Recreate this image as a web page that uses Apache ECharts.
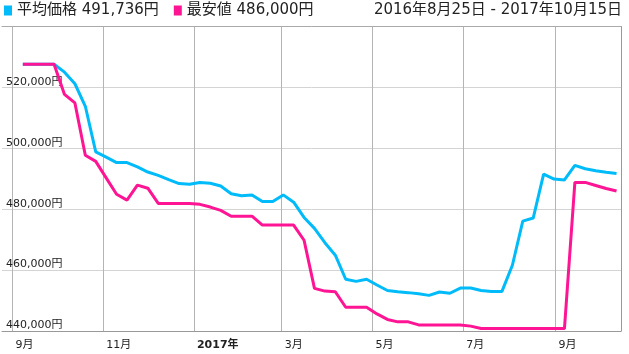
<!DOCTYPE html>
<html><head><meta charset="utf-8">
<script src="https://cdn.jsdelivr.net/npm/echarts@6/dist/echarts.min.js"></script>
<style>html,body{margin:0;padding:0;background:#fff}#c{width:629px;height:354px}</style>
</head><body><div id="c"></div>
<script>
const dates = [
 '2016-09-08','2016-09-15','2016-09-22','2016-09-29','2016-10-06','2016-10-13','2016-10-20','2016-10-27',
 '2016-11-03','2016-11-10','2016-11-17','2016-11-24','2016-12-01','2016-12-08','2016-12-15','2016-12-22','2016-12-29',
 '2017-01-05','2017-01-12','2017-01-19','2017-01-26','2017-02-02','2017-02-09','2017-02-16','2017-02-23',
 '2017-03-02','2017-03-09','2017-03-16','2017-03-23','2017-03-30','2017-04-06','2017-04-13','2017-04-20','2017-04-27',
 '2017-05-04','2017-05-11','2017-05-18','2017-05-25','2017-06-01','2017-06-08','2017-06-15','2017-06-22','2017-06-29',
 '2017-07-06','2017-07-13','2017-07-20','2017-07-27','2017-08-03','2017-08-10','2017-08-17','2017-08-24','2017-08-31',
 '2017-09-07','2017-09-14','2017-09-21','2017-09-28','2017-10-05','2017-10-12'
];
const avgPrice = [
 527600,527600,527600,527600,525000,521200,513800,498800,
 497100,495300,495300,493900,492200,491100,489700,488400,488200,
 488800,488500,487600,485100,484400,484700,482500,482500,
 484700,482300,477300,473700,469000,464900,457000,456300,457000,
 455100,453300,452900,452600,452200,451700,452800,452400,454100,
 454100,453300,453000,453000,461600,476100,477100,491500,489900,
 489600,494400,493300,492600,492100,491736
];
const minPrice = [
 527600,527600,527600,527600,517700,514900,497700,495700,
 490300,484900,483000,487900,486900,481900,481900,481900,481900,
 481600,480700,479600,477700,477700,477700,474800,474800,
 474800,474800,469800,454000,453100,452900,447800,447800,447800,
 445600,443800,443000,443000,442000,442000,442000,442000,442000,
 441600,440800,440800,440800,440800,440800,440800,440800,440800,
 440800,488800,488800,487800,486800,486000
];
const seriesNames = ['平均価格','最安値'];
const seriesColors = ['#00bbf9','#ff1493'];
const rangeText = '2016年8月25日 - 2017年10月15日';
const xMin = '2016-08-25', xMax = '2017-10-15';
const yMin = 440000, yMax = 540000, yStep = 20000;
const yenSuffix = '円', yearSuffix = '年', monthSuffix = '月';
const DAY = 86400000;

function fmt(n){ return String(n).replace(/\B(?=(\d{3})+(?!\d))/g, ','); }
const FONT = '"DejaVu Sans","Noto Sans CJK JP",sans-serif';
const lastVals = {};
lastVals[seriesNames[0]] = avgPrice[avgPrice.length-1];
lastVals[seriesNames[1]] = minPrice[minPrice.length-1];

const chart = echarts.init(document.getElementById('c'), null, {renderer:'canvas'});
chart.setOption({
  animation:false,
  backgroundColor:'#fff',
  title:{text:rangeText, right:7, top:3, padding:0,
    textStyle:{fontSize:15, fontWeight:'normal', color:'#222', fontFamily:FONT}},
  legend:{left:4, top:3, padding:0, icon:'rect', itemWidth:8, itemHeight:10, itemGap:15,
    selectedMode:false, data:seriesNames,
    formatter:function(name){ return name + ' ' + fmt(lastVals[name]) + yenSuffix; },
    textStyle:{fontSize:15, color:'#222', fontFamily:FONT}},
  grid:{left:2, right:8, top:26.5, bottom:23},
  xAxis:[{
    type:'time', min:xMin, max:xMax, splitNumber:5, minInterval:55*DAY, maxInterval:90*DAY,
    axisLine:{show:true, lineStyle:{color:'#999', width:1}},
    axisTick:{show:false},
    splitLine:{show:true, showMinLine:false, showMaxLine:false, lineStyle:{color:'#b4b4b4', width:1}},
    axisLabel:{align:'left', padding:[0,0,0,3], margin:9, color:'#222', fontSize:11, fontFamily:FONT,
      showMinLabel:false, showMaxLabel:false, hideOverlap:false,
      formatter:function(v){
        const d = new Date(v);
        if (d.getDate() !== 1) return '';
        if (d.getMonth() === 0) return '{y|' + d.getFullYear() + yearSuffix + '}';
        return (d.getMonth()+1) + monthSuffix;
      },
      rich:{y:{fontWeight:'bold', fontSize:11, color:'#222', fontFamily:FONT}}
    }
  },{
    type:'time', position:'top', min:xMin, max:xMax,
    axisLine:{show:true, lineStyle:{color:'#aaa'}}, axisTick:{show:false},
    axisLabel:{show:false}, splitLine:{show:false}
  }],
  yAxis:[{
    type:'value', min:yMin, max:yMax, interval:yStep, position:'left',
    axisLine:{show:false}, axisTick:{show:false},
    splitLine:{lineStyle:{color:'#d4d4d4', width:1}},
    axisLabel:{inside:true, margin:4, verticalAlign:'bottom', showMaxLabel:false,
      color:'#222', fontSize:11, fontFamily:FONT,
      formatter:function(v){ return fmt(v) + yenSuffix; }}
  },{
    type:'value', min:yMin, max:yMax, interval:yStep, position:'right',
    axisLine:{show:true, lineStyle:{color:'#999'}}, axisTick:{show:false},
    axisLabel:{show:false}, splitLine:{show:false}
  }],
  series:[{
    name:seriesNames[0], type:'line', symbol:'none', color:seriesColors[0],
    lineStyle:{width:3, color:seriesColors[0]},
    data:dates.map(function(d,i){ return [d, avgPrice[i]]; })
  },{
    name:seriesNames[1], type:'line', symbol:'none', color:seriesColors[1],
    lineStyle:{width:3, color:seriesColors[1]},
    data:dates.map(function(d,i){ return [d, minPrice[i]]; })
  }]
});
</script>
</body></html>
